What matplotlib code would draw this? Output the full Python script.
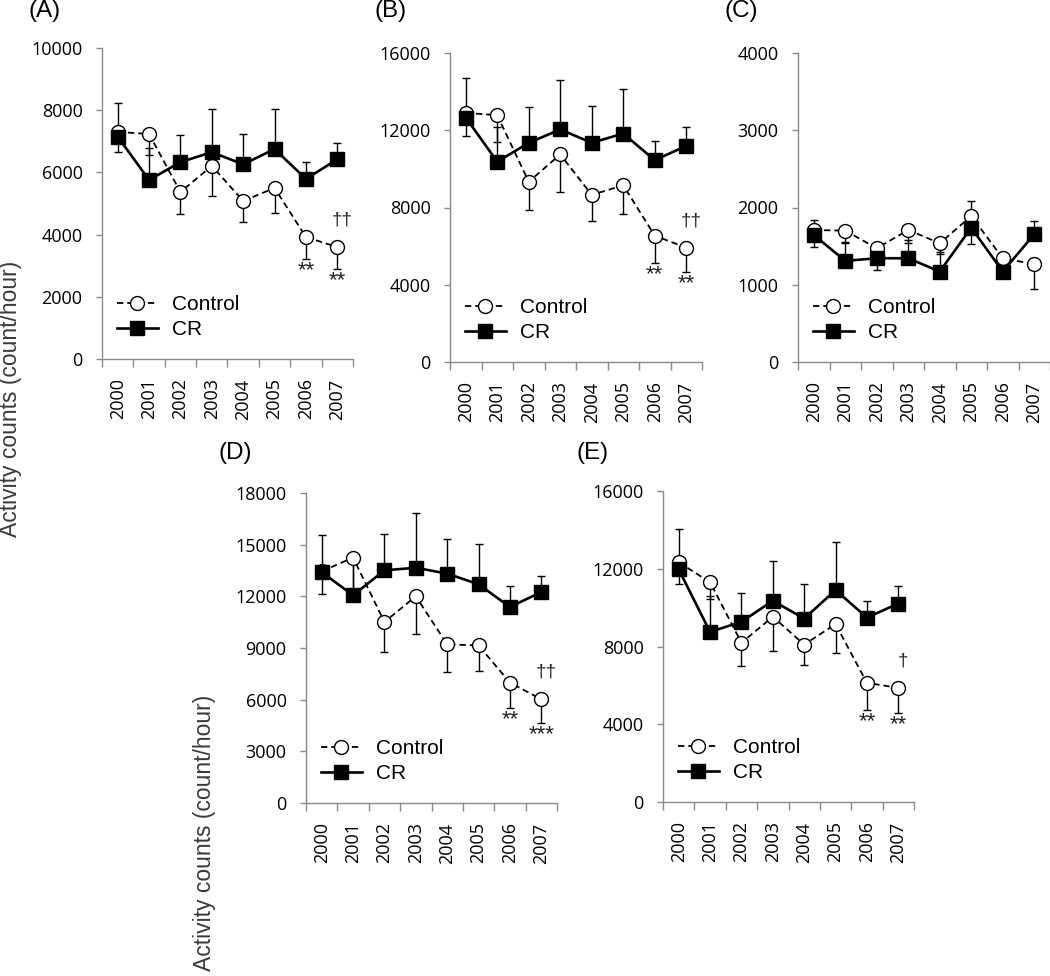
import numpy as np
import matplotlib.pyplot as plt
from matplotlib.ticker import FixedLocator, NullFormatter

plt.rcParams["font.family"] = ["Liberation Sans", "DejaVu Sans"]

years = ["2000", "2001", "2002", "2003", "2004", "2005", "2006", "2007"]

# (A)
a_ctrl = [7300, 7235, 5370, 6210, 5080, 5500, 3920, 3600]
a_ctrl_bar = [6640, 6560, 4660, 5240, 4420, 4700, 3220, 2890]
a_cr = [7150, 5755, 6330, 6650, 6260, 6750, 5790, 6420]
a_cr_bar = [8220, 6780, 7200, 8030, 7230, 8040, 6340, 6960]
a_yticks = [0, 2000, 4000, 6000, 8000, 10000]
a_marks = [("**", 6), ("**", 7), ("††", 7)]

# (B)
b_ctrl = [12900, 12780, 9330, 10750, 8650, 9150, 6540, 5920]
b_ctrl_bar = [11710, 11370, 7870, 8820, 7320, 7660, 5120, 4650]
b_cr = [12660, 10370, 11350, 12040, 11350, 11830, 10450, 11190]
b_cr_bar = [14730, 12180, 13180, 14590, 13260, 14120, 11450, 12180]
b_yticks = [0, 4000, 8000, 12000, 16000]
b_marks = [("**", 6), ("**", 7), ("††", 7)]

# (C)
c_ctrl = [1709, 1700, 1473, 1709, 1537, 1890, 1343, 1266]
c_ctrl_bar = [1839, 1541, 1473, 1545, 1395, 2084, 1343, 947]
c_cr = [1645, 1309, 1343, 1343, 1171, 1739, 1171, 1654]
c_cr_bar = [1494, 1558, 1193, 1580, 1429, 1524, 1171, 1830]
c_yticks = [0, 1000, 2000, 3000, 4000]
c_marks = []

# (D)
d_ctrl = [13450, 14250, 10510, 12000, 9210, 9150, 6990, 6020]
d_ctrl_bar = [12150, 12150, 8770, 9790, 7610, 7660, 5520, 4660]
d_cr = [13410, 12060, 13510, 13660, 13320, 12700, 11380, 12250]
d_cr_bar = [15540, 14150, 15640, 16840, 15350, 15020, 12580, 13180]
d_yticks = [0, 3000, 6000, 9000, 12000, 15000, 18000]
d_marks = [("**", 6), ("***", 7), ("††", 7)]

# (E)
e_ctrl = [12330, 11310, 8190, 9530, 8100, 9150, 6130, 5870]
e_ctrl_bar = [11210, 10440, 6990, 7780, 7040, 7670, 4720, 4600]
e_cr = [11970, 8750, 9270, 10350, 9440, 10900, 9490, 10210]
e_cr_bar = [14030, 10590, 10730, 12410, 11240, 13360, 10330, 11120]
e_yticks = [0, 4000, 8000, 12000, 16000]
e_marks = [("**", 6), ("**", 7), ("†", 7)]

AXIS_GRAY = "#8a8a8a"
W, H = 1050, 976


def draw_errors(ax, x, mean, bar_end, z):
    mean = np.asarray(mean, dtype=float)
    bar_end = np.asarray(bar_end, dtype=float)
    keep = bar_end != mean
    lower = np.where(bar_end < mean, mean - bar_end, 0)[keep]
    upper = np.where(bar_end > mean, bar_end - mean, 0)[keep]
    ax.errorbar(x[keep], mean[keep], yerr=[lower, upper], fmt="none",
                ecolor="black", elinewidth=1.0, capsize=2.6, capthick=1.0,
                zorder=z)


def draw_panel(rect, ctrl, ctrl_bar, cr, cr_bar, yticks, marks):
    ax = fig.add_axes(rect)
    x = np.arange(len(years))

    draw_errors(ax, x, ctrl, ctrl_bar, 2)
    draw_errors(ax, x, cr, cr_bar, 2)

    ax.plot(x, ctrl, color="black", linestyle=(0, (3.5, 2.2)), linewidth=1.3,
            marker="o", markersize=10, markerfacecolor="white",
            markeredgecolor="black", markeredgewidth=1.0, zorder=3,
            label="Control")
    ax.plot(x, cr, color="black", linestyle="-", linewidth=1.9,
            marker="s", markersize=10, markerfacecolor="black",
            markeredgecolor="black", zorder=4, label="CR")

    ax.set_xlim(-0.5, len(years) - 0.5)
    ax.set_ylim(0, yticks[-1])
    ax.set_yticks(yticks)
    ax.set_yticklabels([str(t) for t in yticks], fontsize=13,
                       family="Open Sans")

    ax.xaxis.set_major_locator(FixedLocator(np.arange(-0.5, len(years), 1.0)))
    ax.xaxis.set_major_formatter(NullFormatter())
    ax.xaxis.set_minor_locator(FixedLocator(x))
    ax.set_xticklabels(years, minor=True, rotation=90, fontsize=13,
                       family="Open Sans")
    ax.tick_params(axis="x", which="major", length=6, width=1,
                   color=AXIS_GRAY, direction="out")
    ax.tick_params(axis="x", which="minor", length=0, pad=14)
    ax.tick_params(axis="y", length=4, width=1, color=AXIS_GRAY, pad=10)

    for side in ["top", "right"]:
        ax.spines[side].set_visible(False)
    for side in ["left", "bottom"]:
        ax.spines[side].set_color(AXIS_GRAY)
        ax.spines[side].set_linewidth(1.0)

    ax.legend(loc="center left", bbox_to_anchor=(0.06, 0.135), frameon=False,
              fontsize=15, handlelength=1.95, handletextpad=0.7,
              labelspacing=0.3, borderpad=0, borderaxespad=0, numpoints=1)

    for text, i in marks:
        if "*" in text:
            ax.annotate(text, (i, ctrl_bar[i]), xytext=(0, -8.5),
                        textcoords="offset points", ha="center", va="center",
                        fontsize=16, color="#222222")
        else:
            ax.annotate(text, (i, ctrl[i]), xytext=(3.5, 19.5),
                        textcoords="offset points", ha="center", va="center",
                        fontsize=13.5, color="#222222")
    return ax


fig = plt.figure(figsize=(W / 100, H / 100), dpi=100)


def px_rect(left, top, right, bottom):
    return [left / W, 1 - bottom / H, (right - left) / W, (bottom - top) / H]


def panel_label(text, left, top):
    fig.text(left / W, 1 - top / H, text, fontsize=17.5, ha="left", va="top")


ax_a = draw_panel(px_rect(102, 48, 353, 359), a_ctrl, a_ctrl_bar,
                  a_cr, a_cr_bar, a_yticks, a_marks)
ax_b = draw_panel(px_rect(450, 53, 702, 362), b_ctrl, b_ctrl_bar,
                  b_cr, b_cr_bar, b_yticks, b_marks)
ax_c = draw_panel(px_rect(798, 53, 1050, 362), c_ctrl, c_ctrl_bar,
                  c_cr, c_cr_bar, c_yticks, c_marks)
ax_d = draw_panel(px_rect(306, 493, 557, 803), d_ctrl, d_ctrl_bar,
                  d_cr, d_cr_bar, d_yticks, d_marks)
ax_e = draw_panel(px_rect(663, 491, 914, 802), e_ctrl, e_ctrl_bar,
                  e_cr, e_cr_bar, e_yticks, e_marks)

panel_label("(A)", 28, 0)
panel_label("(B)", 375, 0)
panel_label("(C)", 725, 0)
panel_label("(D)", 218, 442)
panel_label("(E)", 577, 442)

ylabel = "Activity counts (count/hour)"
fig.text(11 / W, 1 - 399 / H, ylabel, rotation=90, ha="center", va="center",
         fontsize=16.5, family="Liberation Sans", color="#3a3a3a")
fig.text(205 / W, 1 - 833 / H, ylabel, rotation=90, ha="center", va="center",
         fontsize=16.5, family="Liberation Sans", color="#3a3a3a")

fig.savefig("out.png", dpi=100)
